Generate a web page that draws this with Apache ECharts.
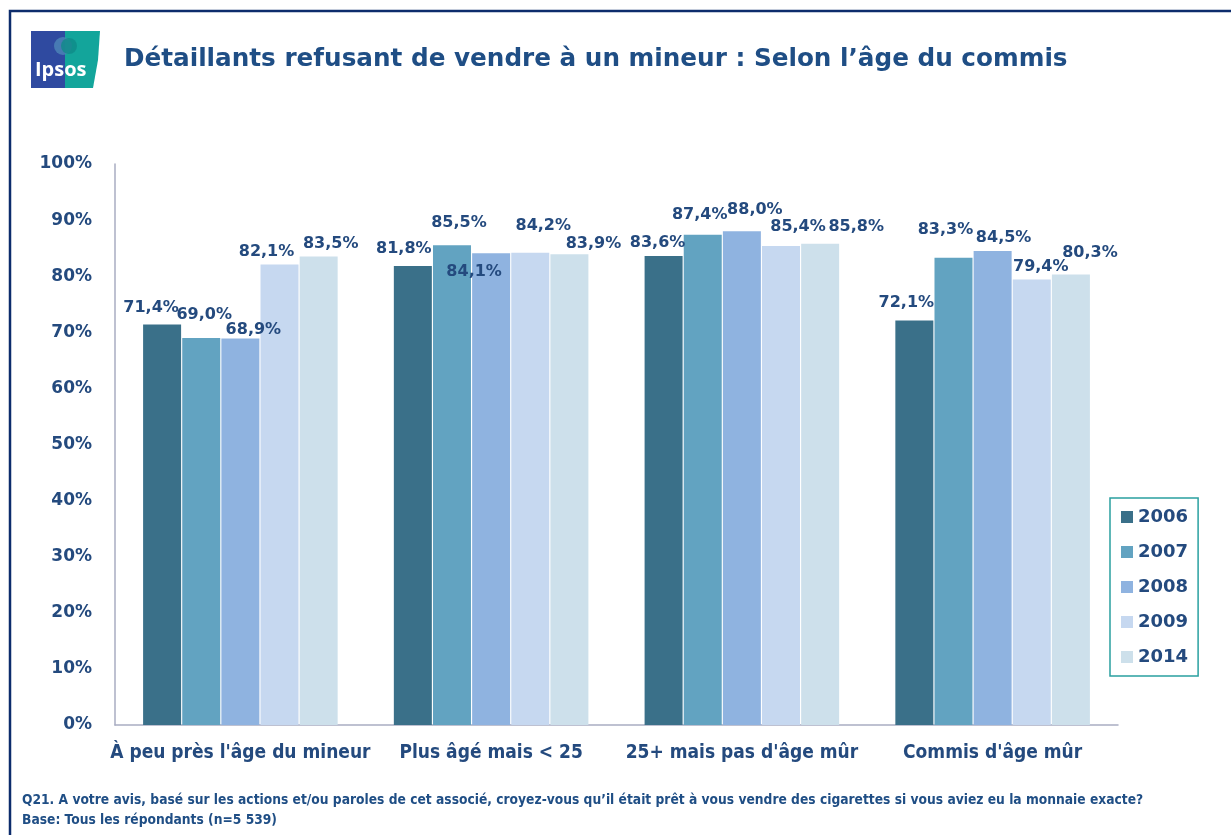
<!DOCTYPE html>
<html lang="fr">
<head>
<meta charset="utf-8" />
<title>Détaillants refusant de vendre à un mineur</title>
<script src="https://cdn.jsdelivr.net/npm/echarts@6/dist/echarts.min.js"></script>
<style>
  html, body { margin: 0; padding: 0; background: #fff; }
  #chart { width: 1231px; height: 835px; }
</style>
</head>
<body>
<div id="chart"></div>
<script>
// categories and values
var categories = ["À peu près l'âge du mineur", 'Plus âgé mais < 25', "25+ mais pas d'âge mûr", "Commis d'âge mûr"];
var years = ['2006', '2007', '2008', '2009', '2014'];
var v2006 = [71.4, 81.8, 83.6, 72.1];
var v2007 = [69.0, 85.5, 87.4, 83.3];
var v2008 = [68.9, 84.1, 88.0, 84.5];
var v2009 = [82.1, 84.2, 85.4, 79.4];
var v2014 = [83.5, 83.9, 85.8, 80.3];
var yTicks = [0, 10, 20, 30, 40, 50, 60, 70, 80, 90, 100];

// label nudges, as in the original slide (dx, dy px)
var shifts = [
  [[-11, -4], [-9, -4], [-6, 0], [-8, -5]],
  [[3, -10], [7, -10], [-3, -7], [-8, -15]],
  [[13, 4], [-17, 32], [13, -8], [11, 0]],
  [[-13, 0], [13, -14], [17, -6], [9, 0]],
  [[12, 0], [24, 3], [36, -4], [19, -9]]
];

var colors = ['#3a7089', '#62a3c1', '#8fb3e0', '#c6d8f0', '#cde0eb'];
var navy = '#244a7e';
var values = [v2006, v2007, v2008, v2009, v2014];

var chart = echarts.init(document.getElementById('chart'));

var series = years.map(function (y, i) {
  return {
    name: y,
    type: 'bar',
    barWidth: 38,
    barGap: '3%',
    itemStyle: { color: colors[i] },
    label: {
      show: true,
      position: 'top',
      distance: 5,
      color: navy,
      fontFamily: 'DejaVu Sans',
      fontWeight: 'bold',
      fontSize: 16,
      formatter: function (p) { return p.value.toFixed(1).replace('.', ',') + '%'; }
    },
    data: values[i].map(function (v, j) {
      return { value: v, label: { offset: shifts[i][j] } };
    })
  };
});

var option = {
  animation: false,
  color: colors,
  grid: { left: 115, right: 113, top: 164, bottom: 110 },
  legend: {
    orient: 'vertical',
    left: 1110,
    top: 498,
    width: 85,
    padding: [10, 10, 10, 11],
    itemGap: 17,
    itemWidth: 12,
    itemHeight: 12,
    icon: 'rect',
    borderColor: '#2aa0a0',
    borderWidth: 1.5,
    textStyle: { color: navy, fontFamily: 'DejaVu Sans', fontWeight: 'bold', fontSize: 18, lineHeight: 18 },
    data: years
  },
  xAxis: {
    type: 'category',
    data: categories,
    axisLine: { lineStyle: { color: '#a9adc2', width: 1.5 } },
    axisTick: { show: false },
    axisLabel: {
      interval: 0,
      color: navy,
      fontFamily: 'DejaVu Sans Condensed',
      fontWeight: 'bold',
      fontSize: 19,
      margin: 19
    }
  },
  yAxis: {
    type: 'value',
    min: yTicks[0],
    max: yTicks[yTicks.length - 1],
    interval: 10,
    splitLine: { show: false },
    axisLine: { show: true, lineStyle: { color: '#a9adc2', width: 1.5 } },
    axisTick: { show: false },
    axisLabel: {
      color: navy,
      fontFamily: 'DejaVu Sans',
      fontWeight: 'bold',
      fontSize: 17,
      margin: 23,
      formatter: '{value}%'
    }
  },
  graphic: [
    { type: 'rect', shape: { x: 10, y: 11, width: 1260, height: 900 }, style: { fill: 'none', stroke: '#0d2c6c', lineWidth: 2.5 }, silent: true },
    // Ipsos logo
    { type: 'rect', shape: { x: 31, y: 31, width: 34, height: 57 }, style: { fill: '#2f4aa0' } },
    { type: 'polygon', shape: { points: [[65, 31], [100, 31], [98, 60], [93, 88], [65, 88]] }, style: { fill: '#13a59b' } },
    { type: 'circle', shape: { cx: 63, cy: 46, r: 9 }, style: { fill: '#4e86b8', opacity: 0.8 } },
    { type: 'circle', shape: { cx: 69, cy: 46, r: 8 }, style: { fill: '#0f8b88', opacity: 0.8 } },
    { type: 'text', left: 35, top: 60, style: { text: 'Ipsos', fill: '#fff', font: 'bold 20px "Open Sans"' } },
    { type: 'text', left: 124, top: 47, style: { text: 'Détaillants refusant de vendre à un mineur : Selon l’âge du commis', fill: '#1f4e85', font: 'bold 24.7px "DejaVu Sans"' } },
    { type: 'text', left: 22, top: 793, style: { text: 'Q21. A votre avis, basé sur les actions et/ou paroles de cet associé, croyez-vous qu’il était prêt à vous vendre des cigarettes si vous aviez eu la monnaie exacte?', fill: '#1f4e85', font: 'bold 13.7px "DejaVu Sans Condensed"' } },
    { type: 'text', left: 22, top: 813, style: { text: 'Base: Tous les répondants (n=5 539)', fill: '#1f4e85', font: 'bold 13.7px "DejaVu Sans Condensed"' } }
  ],
  series: series
};

chart.setOption(option);
window.onresize = function () { chart.resize(); };
</script>
</body>
</html>
